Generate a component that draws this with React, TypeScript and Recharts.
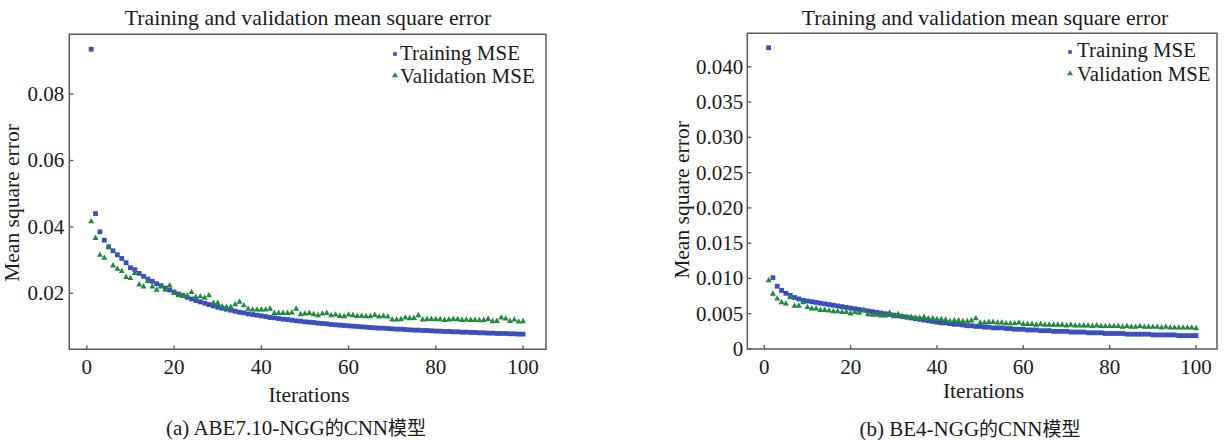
import React from 'react';
import { ScatterChart, Scatter, XAxis, YAxis, ReferenceArea, Legend } from 'recharts';

const iterations = [
  1, 2, 3, 4, 5, 6, 7, 8, 9, 10, 11, 12, 13, 14, 15, 16, 17, 18, 19, 20,
  21, 22, 23, 24, 25, 26, 27, 28, 29, 30, 31, 32, 33, 34, 35, 36, 37, 38, 39, 40,
  41, 42, 43, 44, 45, 46, 47, 48, 49, 50, 51, 52, 53, 54, 55, 56, 57, 58, 59, 60,
  61, 62, 63, 64, 65, 66, 67, 68, 69, 70, 71, 72, 73, 74, 75, 76, 77, 78, 79, 80,
  81, 82, 83, 84, 85, 86, 87, 88, 89, 90, 91, 92, 93, 94, 95, 96, 97, 98, 99, 100,
];

// (a) ABE7.10-NGG
const abeTrainingMse = [
  0.0935, 0.044, 0.0385, 0.036, 0.034, 0.0328, 0.0316, 0.0305, 0.0292, 0.0277,
  0.0271, 0.026, 0.0251, 0.0243, 0.0236, 0.0229, 0.0223, 0.0216, 0.021, 0.0204,
  0.0198, 0.0193, 0.0188, 0.0183, 0.0178, 0.0174, 0.017, 0.0166, 0.0162, 0.0158,
  0.0155, 0.0152, 0.0149, 0.0146, 0.0143, 0.0141, 0.0138, 0.0136, 0.0134, 0.0132,
  0.013, 0.0127, 0.0126, 0.0124, 0.0122, 0.0121, 0.0119, 0.0117, 0.0116, 0.0114,
  0.0113, 0.0112, 0.011, 0.0109, 0.0108, 0.0106, 0.0105, 0.0104, 0.0103, 0.0102,
  0.0101, 0.01, 0.0099, 0.0098, 0.0097, 0.0096, 0.0095, 0.0095, 0.0094, 0.0093,
  0.0092, 0.0092, 0.0091, 0.009, 0.0089, 0.0089, 0.0088, 0.0088, 0.0087, 0.0086,
  0.0086, 0.0085, 0.0085, 0.0084, 0.0084, 0.0083, 0.0083, 0.0082, 0.0082, 0.0081,
  0.0081, 0.008, 0.008, 0.0079, 0.0079, 0.0079, 0.0078, 0.0078, 0.0077, 0.0077,
];
const abeValidationMse = [
  0.0418, 0.0368, 0.0317, 0.0308, 0.034, 0.0285, 0.0275, 0.0268, 0.025, 0.0247,
  0.0262, 0.0228, 0.0222, 0.0238, 0.0222, 0.0212, 0.0222, 0.0212, 0.0225, 0.0202,
  0.0195, 0.0195, 0.0194, 0.0205, 0.019, 0.0192, 0.0188, 0.0195, 0.0172, 0.0172,
  0.0162, 0.016, 0.016, 0.0168, 0.0176, 0.0165, 0.0155, 0.0152, 0.0152, 0.0152,
  0.0152, 0.0155, 0.0142, 0.0142, 0.0142, 0.0142, 0.0143, 0.0155, 0.0138, 0.014,
  0.0142, 0.0138, 0.0135, 0.014, 0.0142, 0.0135, 0.0137, 0.0133, 0.0132, 0.0137,
  0.0135, 0.0133, 0.0133, 0.0132, 0.0132, 0.0136, 0.0131, 0.0133, 0.0131, 0.0122,
  0.0122, 0.0123, 0.0128, 0.0126, 0.0127, 0.0135, 0.0122, 0.0123, 0.0124, 0.0123,
  0.0123, 0.0121, 0.0122, 0.0124, 0.0123, 0.0121, 0.0122, 0.0121, 0.0121, 0.012,
  0.0121, 0.0124, 0.0117, 0.0118, 0.0128, 0.0125, 0.0118, 0.0122, 0.0116, 0.0117,
];

// (b) BE4-NGG
const be4TrainingMse = [
  0.0427, 0.0101, 0.0089, 0.0083, 0.0079, 0.0076, 0.0073, 0.0071, 0.0069, 0.0068,
  0.0067, 0.0066, 0.0065, 0.0064, 0.0063, 0.0062, 0.0061, 0.006, 0.0059, 0.0058,
  0.0057, 0.0056, 0.0055, 0.0054, 0.0053, 0.0052, 0.0051, 0.005, 0.0049, 0.0048,
  0.0047, 0.0046, 0.0045, 0.0044, 0.0043, 0.0042, 0.0041, 0.004, 0.0039, 0.0038,
  0.0037, 0.0037, 0.0036, 0.0035, 0.0035, 0.0034, 0.0033, 0.0033, 0.0032, 0.0032,
  0.0031, 0.0031, 0.003, 0.003, 0.003, 0.0029, 0.0029, 0.0028, 0.0028, 0.0028,
  0.0027, 0.0027, 0.0027, 0.0026, 0.0026, 0.0026, 0.0025, 0.0025, 0.0025, 0.0025,
  0.0024, 0.0024, 0.0024, 0.0024, 0.0023, 0.0023, 0.0023, 0.0023, 0.0022, 0.0022,
  0.0022, 0.0022, 0.0022, 0.0021, 0.0021, 0.0021, 0.0021, 0.0021, 0.0021, 0.002,
  0.002, 0.002, 0.002, 0.002, 0.002, 0.0019, 0.0019, 0.0019, 0.0019, 0.0019,
];
const be4ValidationMse = [
  0.0098, 0.0079, 0.0072, 0.0067, 0.0065, 0.0074, 0.0062, 0.0062, 0.0067, 0.006,
  0.0058, 0.0058, 0.0056, 0.0056, 0.0055, 0.0054, 0.0054, 0.0053, 0.0053, 0.0051,
  0.0053, 0.0052, 0.0056, 0.005, 0.0049, 0.0049, 0.0048, 0.0048, 0.0052, 0.0047,
  0.005, 0.0047, 0.0046, 0.0046, 0.0045, 0.0045, 0.0046, 0.0044, 0.0044, 0.0043,
  0.0043, 0.0042, 0.004, 0.0041, 0.0041, 0.004, 0.004, 0.0041, 0.0044, 0.0038,
  0.0038, 0.0039, 0.0039, 0.0038, 0.0038, 0.0037, 0.0037, 0.0037, 0.0038, 0.0036,
  0.0036, 0.0036, 0.0035, 0.0036, 0.0035, 0.0035, 0.0035, 0.0035, 0.0035, 0.0034,
  0.0035, 0.0034, 0.0034, 0.0034, 0.0034, 0.0033, 0.0034, 0.0033, 0.0033, 0.0033,
  0.0033, 0.0033, 0.0032, 0.0033, 0.0032, 0.0032, 0.0033, 0.0032, 0.0032, 0.0032,
  0.0032, 0.0031, 0.0032, 0.0031, 0.0031, 0.0031, 0.0031, 0.0031, 0.0031, 0.003,
];

const xTicks = [0, 20, 40, 60, 80, 100];
const abeYTicks = [0.02, 0.04, 0.06, 0.08];
const be4YTicks = [0, 0.005, 0.01, 0.015, 0.02, 0.025, 0.03, 0.035, 0.04];
const seriesNames = ['Training MSE', 'Validation MSE'];
const chartTitle = 'Training and validation mean square error';
const xAxisLabel = 'Iterations';
const yAxisLabel = 'Mean square error';
const captionLatin = ['(a) ABE7.10-NGG', '(b) BE4-NGG'];
const captionTail = ['的', 'CNN', '模型'];

const BLUE = '#3a4fbd';
const GREEN = '#1f8b3b';
const FRAME = '#5a5a5a';
const TEXT = '#1a1a1a';
const SERIF = '"Liberation Serif", "Times New Roman", serif';
const CJK = '"Noto Sans CJK SC", sans-serif';

const Y_AXIS_W = 60;
const X_AXIS_H = 40;

const toPoints = (ys: number[]) => iterations.map((it, i) => ({ x: it, y: ys[i] }));

const SquareShape = (p: any) => (
  <rect x={p.cx - 2.4} y={p.cy - 2.4} width={4.8} height={4.8} fill={BLUE} />
);
const TriangleShape = (p: any) => (
  <polygon
    points={`${p.cx},${p.cy - 3} ${p.cx + 3},${p.cy + 2.4} ${p.cx - 3},${p.cy + 2.4}`}
    fill={GREEN}
  />
);

const XTick = (props: any) => {
  const { x, y, payload } = props;
  return (
    <g>
      <line x1={x} x2={x} y1={y} y2={y - 4} stroke={FRAME} strokeWidth={1.3} />
      <text x={x} y={y + 17.5} textAnchor="middle" dominantBaseline="central" fontSize={21} fontFamily={SERIF} fill={TEXT}>
        {payload.value}
      </text>
    </g>
  );
};

const makeYTick = (fmt: (v: number) => string, gap: number) => (props: any) => {
  const { x, y, payload } = props;
  return (
    <g>
      <line x1={x} x2={x + 4} y1={y} y2={y} stroke={FRAME} strokeWidth={1.3} />
      <text x={x - gap} y={y} textAnchor="end" dominantBaseline="central" fontSize={21} fontFamily={SERIF} fill={TEXT}>
        {fmt(payload.value)}
      </text>
    </g>
  );
};

type PanelProps = {
  idx: number;
  left: number;
  width: number;
  plot: { l: number; r: number; t: number; b: number };
  xDomain: [number, number];
  yDomain: [number, number];
  yTicks: number[];
  fmt: (v: number) => string;
  yGap: number;
  training: number[];
  validation: number[];
  legend: { mx: number; tx: number; y1: number; y2: number; size: number };
  title: { cx: number; cy: number };
  xLab: { cx: number; cy: number };
  yLab: { cx: number; cy: number };
  caption: { cx: number; cy: number };
};

const Panel = (p: PanelProps) => {
  const legendContent = () => (
    <div style={{ position: 'relative', width: p.width, height: 0, fontFamily: SERIF }}>
      {[0, 1].map((i) => {
        const cy = i === 0 ? p.legend.y1 : p.legend.y2;
        return (
          <div key={i}>
            <svg
              width={10}
              height={10}
              style={{ position: 'absolute', left: p.legend.mx - 5, top: cy - 5 + (i === 0 ? 1.5 : -1) }}
            >
              {i === 0 ? (
                <rect x={3.2} y={3.2} width={3.6} height={3.6} fill={BLUE} />
              ) : (
                <polygon points="5,2.3 8,7.3 2,7.3" fill={GREEN} />
              )}
            </svg>
            <div
              style={{
                position: 'absolute',
                left: p.legend.tx,
                top: cy - 10,
                height: 20,
                lineHeight: '20px',
                fontSize: p.legend.size,
                color: TEXT,
                whiteSpace: 'nowrap',
              }}
            >
              {seriesNames[i]}
            </div>
          </div>
        );
      })}
    </div>
  );

  const textBox = (content: React.ReactNode, cx: number, cy: number, size: number, rotate = false) => (
    <div
      style={{
        position: 'absolute',
        left: cx - p.left - 200,
        top: cy - 15,
        width: 400,
        height: 30,
        lineHeight: '30px',
        textAlign: 'center',
        fontSize: size,
        fontFamily: SERIF,
        color: TEXT,
        whiteSpace: 'nowrap',
        transform: rotate ? 'rotate(-90deg)' : undefined,
      }}
    >
      {content}
    </div>
  );

  const caption = (
    <>
      <span>{captionLatin[p.idx]}</span>
      <span style={{ fontFamily: CJK, fontSize: 19 }}>{captionTail[0]}</span>
      <span>{captionTail[1]}</span>
      <span style={{ fontFamily: CJK, fontSize: 19 }}>{captionTail[2]}</span>
    </>
  );

  return (
    <div style={{ position: 'absolute', left: p.left, top: 0, width: p.width, height: 440 }}>
      <ScatterChart
        width={p.width}
        height={440}
        margin={{
          top: p.plot.t,
          bottom: 440 - p.plot.b - X_AXIS_H,
          left: p.plot.l - p.left - Y_AXIS_W,
          right: p.left + p.width - p.plot.r,
        }}
      >
        <XAxis
          type="number"
          dataKey="x"
          domain={p.xDomain}
          ticks={xTicks}
          allowDataOverflow
          axisLine={false}
          tickLine={false}
          tickSize={0}
          tickMargin={0}
          height={X_AXIS_H}
          interval={0}
          tick={XTick}
        />
        <YAxis
          type="number"
          dataKey="y"
          domain={p.yDomain}
          ticks={p.yTicks}
          allowDataOverflow
          axisLine={false}
          tickLine={false}
          tickSize={0}
          tickMargin={0}
          width={Y_AXIS_W}
          interval={0}
          tick={makeYTick(p.fmt, p.yGap)}
        />
        <ReferenceArea
          x1={p.xDomain[0]}
          x2={p.xDomain[1]}
          y1={p.yDomain[0]}
          y2={p.yDomain[1]}
          fill="none"
          stroke={FRAME}
          strokeWidth={1.5}
          ifOverflow="visible"
        />
        <Scatter name={seriesNames[0]} data={toPoints(p.training)} shape={SquareShape} isAnimationActive={false} />
        <Scatter name={seriesNames[1]} data={toPoints(p.validation)} shape={TriangleShape} isAnimationActive={false} />
        <Legend
          layout="vertical"
          align="center"
          verticalAlign="middle"
          wrapperStyle={{ position: 'absolute', left: 0, top: 0, width: p.width, height: 0 }}
          content={legendContent}
        />
      </ScatterChart>
      {textBox(chartTitle, p.title.cx, p.title.cy, 21.8)}
      {textBox(xAxisLabel, p.xLab.cx, p.xLab.cy, 21.5)}
      {textBox(yAxisLabel, p.yLab.cx, p.yLab.cy, 21.5, true)}
      {textBox(caption, p.caption.cx, p.caption.cy, 21)}
    </div>
  );
};

export default function App() {
  return (
    <div
      style={{
        position: 'absolute',
        left: 0,
        top: 0,
        width: 1227,
        height: 440,
        background: '#fff',
        overflow: 'hidden',
      }}
    >
      <Panel
        idx={0}
        left={0}
        width={614}
        plot={{ l: 69.3, r: 546, t: 34.3, b: 349.3 }}
        xDomain={[-4.02, 105.26]}
        yDomain={[0.00313, 0.098]}
        yTicks={abeYTicks}
        fmt={(v) => v.toFixed(2)}
        yGap={5}
        training={abeTrainingMse}
        validation={abeValidationMse}
        legend={{ mx: 395, tx: 400, y1: 52.5, y2: 76, size: 21 }}
        title={{ cx: 308, cy: 17.5 }}
        xLab={{ cx: 309, cy: 395 }}
        yLab={{ cx: 12, cy: 203 }}
        caption={{ cx: 296, cy: 427 }}
      />
      <Panel
        idx={1}
        left={614}
        width={613}
        plot={{ l: 747.3, r: 1217, t: 33.3, b: 349 }}
        xDomain={[-3.94, 104.86]}
        yDomain={[0, 0.04475]}
        yTicks={be4YTicks}
        fmt={(v) => (v === 0 ? '0' : v.toFixed(3))}
        yGap={4}
        training={be4TrainingMse}
        validation={be4ValidationMse}
        legend={{ mx: 1070 - 614, tx: 1077 - 614, y1: 50, y2: 74, size: 20.8 }}
        title={{ cx: 985, cy: 18.3 }}
        xLab={{ cx: 983.5, cy: 391 }}
        yLab={{ cx: 682, cy: 200 }}
        caption={{ cx: 970, cy: 428 }}
      />
    </div>
  );
}
